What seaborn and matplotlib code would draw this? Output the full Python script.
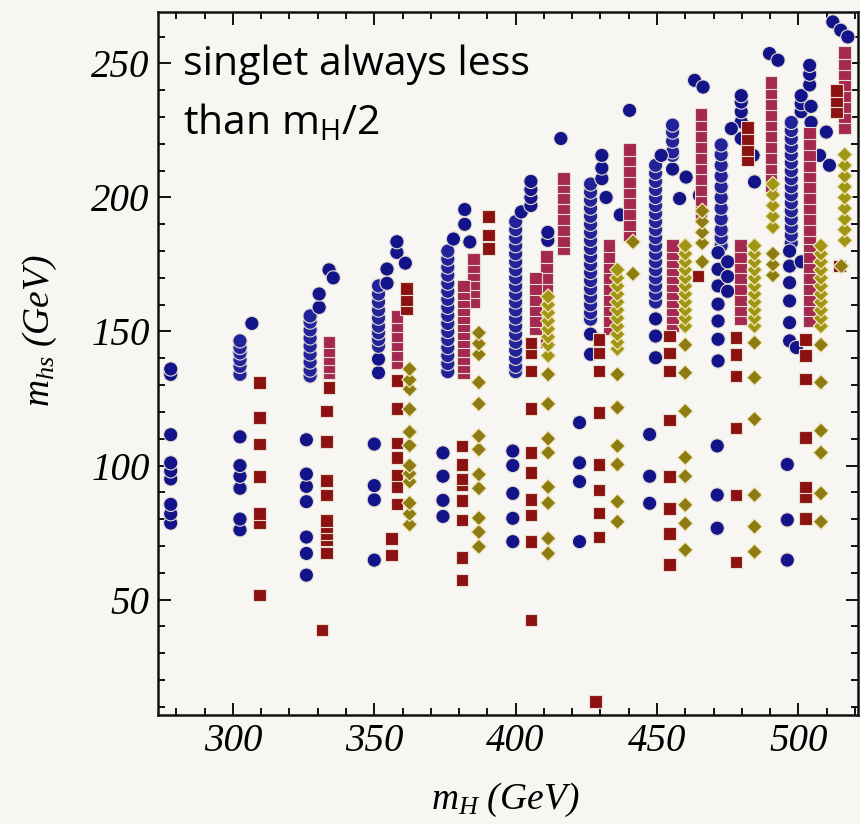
import matplotlib
matplotlib.use("Agg")
import matplotlib.pyplot as plt
from matplotlib.ticker import MultipleLocator
import pandas as pd
import seaborn as sns

# Scan points grouped by column: (m_H, [m_hs values]) in GeV
blue_cols = [
    (278.0, [136, 134, 111.5, 101, 98, 95, 85.5, 82, 78.5]),
    (302.5, [146.5, 144, 142, 139.5, 137, 134, 110.7, 100, 96, 91.5, 80, 76]),
    (306.7, [153]),
    (327.3, [155.8, 153.5, 150.6, 147.6, 144.6, 141.6, 138.6, 135.6, 133.4]),
    (326.0, [109.6, 96.8, 92.2, 86.5, 73.3, 67.2, 59.1]),
    (330.5, [164, 159]),
    (334.0, [173]),
    (335.5, [170]),
    (351.5, [167, 164, 161, 158, 155, 152, 149.5, 147, 144.5, 139.7, 134.6]),
    (350.0, [108, 92.5, 87.2, 64.7]),
    (354.5, [173.3, 168]),
    (358.0, [183.5, 179.5]),
    (361.0, [175.5]),
    (376.0, [180, 177, 174, 171, 168, 165, 162, 159, 156, 153, 150, 147, 144, 141, 138, 135]),
    (374.3, [104.7, 96, 87, 81]),
    (382.0, [195.5, 190]),
    (378.0, [184.5]),
    (383.8, [183.4]),
    (400.0, [191, 188, 185, 182, 179, 176, 173, 170, 167, 164, 161, 158, 155, 152, 149, 146, 143, 140, 137, 135]),
    (402.0, [194.6]),
    (405.4, [206, 203, 200, 197]),
    (411.4, [187, 184]),
    (416.0, [222]),
    (399.0, [105.4, 100, 89.6, 80.3, 71.6]),
    (426.5, [205, 202, 199, 196, 193, 190, 187, 184, 181, 178, 175, 172, 169, 166, 163, 160, 157, 154.6, 149, 141.5]),
    (430.5, [215.7, 211, 207]),
    (432.0, [200]),
    (437.0, [193.5]),
    (440.3, [232.5]),
    (422.6, [116, 101, 94, 71.6]),
    (449.5, [212, 209, 206, 203, 200, 197, 194, 191, 188, 185, 182, 179, 176, 173, 170, 167, 164, 161, 154.7, 148.3, 140.2]),
    (455.5, [227, 224.4, 221, 217, 215.7, 210.6]),
    (451.5, [215.7]),
    (460.3, [207.6]),
    (458.0, [199.6]),
    (465.0, [200.8]),
    (463.3, [243.7]),
    (466.3, [241.2]),
    (447.4, [111.6, 96, 85.9]),
    (472.7, [219.6, 216, 212, 208, 204, 200, 196, 192, 188, 185, 182]),
    (471.6, [179.4, 173.2, 167, 160.2, 153.9, 147.1, 139]),
    (475.0, [176, 170.5, 165]),
    (479.8, [238, 235.6, 232, 228.2, 222]),
    (476.3, [225.7]),
    (484.0, [215.7]),
    (484.5, [205.8]),
    (489.8, [253.7]),
    (492.8, [251.2]),
    (471.3, [107.3, 89, 76.6]),
    (497.5, [228, 225, 222, 219, 216, 213, 210, 207, 204, 201, 198, 195, 192, 189, 186, 183]),
    (496.9, [180, 174.4, 168.2, 161.4, 153.3, 146.5]),
    (501.0, [238, 235, 232, 176]),
    (504.0, [249.3, 246, 242]),
    (504.5, [234, 228]),
    (509.9, [224.4]),
    (507.5, [215.7]),
    (511.0, [212]),
    (499.3, [144]),
    (512.2, [265.5]),
    (515.0, [262.4]),
    (517.5, [259.9]),
    (496.1, [100.4, 79.7, 64.7]),
]

red_cols = [
    (309.5, [131, 118, 108, 96, 82, 78.5, 51.7]),
    (334.0, [146, 143, 140, 137, 134.5, 129]),
    (333.0, [120.3, 109, 94.5, 89, 79.5, 77, 74.5, 72.2, 67.3]),
    (331.5, [38.6]),
    (358.0, [155.5, 152, 148.5, 145, 141.5, 138.5, 131.7, 121.2, 108.4, 103, 96.5, 92, 85.7]),
    (356.0, [72.8, 66.6]),
    (361.5, [166, 162, 158.5]),
    (390.5, [193, 186, 181]),
    (385.0, [177, 174, 171, 168, 165, 161]),
    (381.5, [167, 164, 161, 158, 155, 152, 149, 146, 143, 140, 137, 134.6]),
    (381.0, [107.3, 100.4, 95, 92.7, 87, 79.7, 65.6, 57.3]),
    (417.0, [207, 204, 200, 196, 192, 188, 184, 181]),
    (411.0, [178, 174, 170, 166, 162, 158, 154, 150, 146]),
    (407.0, [170, 166, 162, 158, 154, 151]),
    (405.5, [145.7, 142, 135.3, 121.2, 104.8, 97.3, 87.4, 81.5, 71.6, 42.4]),
    (440.3, [218, 214, 210, 206, 202, 198, 194, 190, 186]),
    (433.0, [182, 178, 174, 170, 166, 162, 158, 154, 151]),
    (429.5, [147, 142, 135.3, 119.7, 100.4, 90.9, 82.2, 73.4]),
    (428.2, [12]),
    (465.5, [231, 227, 223, 219, 215, 211, 207, 203, 199, 196, 193]),
    (455.5, [182, 179, 176, 173, 170, 167, 164, 161, 158, 155, 152]),
    (454.5, [148.3, 142, 135.3, 117, 96, 84, 74.7, 63]),
    (464.5, [170.7]),
    (490.4, [243, 239, 235, 231, 227, 223, 219, 215, 211, 208, 204.5]),
    (482.0, [226, 222, 218, 214]),
    (479.5, [182, 178, 174, 170, 166, 162, 158, 154.6]),
    (478.0, [147.7, 141.5, 133.4, 114, 89, 64]),
    (516.4, [254, 250, 246, 242, 238, 234, 230, 226]),
    (513.4, [240, 236, 232]),
    (504.0, [224, 220, 216, 212, 208, 204, 200, 196, 192, 188, 185, 182, 178, 174, 170, 166, 162, 158, 154]),
    (502.5, [147, 141, 132.2, 110.4, 92, 88.4, 80.3]),
    (514.6, [174.4]),
]

olive_cols = [
    (362.5, [136, 132, 128.5, 121, 112.5, 107.5, 100, 97, 94, 86, 82, 78]),
    (387.0, [149.5, 145.5, 141.5, 131, 123, 111, 106, 96.7, 91.5, 80.4, 75.2, 69.7]),
    (411.5, [163, 160, 157, 154, 151, 148, 145, 141, 134, 123, 110, 104.8, 92, 86, 72.8, 67.2]),
    (441.5, [183.4, 171.5]),
    (436.0, [173, 170, 167, 164, 161, 158, 155, 152, 149, 146, 143.5, 134, 121.6, 107.3, 100.4, 86.5, 79]),
    (466.0, [195, 191, 187, 183, 176]),
    (460.0, [182, 179, 176, 173, 170, 167, 164, 161, 158, 155, 152, 145, 134.6, 120.3, 103, 96, 85.3, 78.4, 68.5]),
    (491.0, [205, 201, 197, 193, 189, 179, 175, 171]),
    (484.5, [182, 179, 176, 173, 170, 167, 164, 161, 158, 155, 152, 145.8, 132.8, 117.3, 89, 77.2, 67.8]),
    (516.4, [216, 212, 208, 204, 200, 196, 192, 188, 184]),
    (515.2, [174.4]),
    (508.0, [182, 179, 176, 173, 170, 167, 164, 161, 158, 155, 152, 145, 131, 113, 104.8, 89.6, 79]),
]

x_ticks = [300, 350, 400, 450, 500]
y_ticks = [50, 100, 150, 200, 250]


def to_frame(cols, gap=4.5, min_run=5):
    """Flatten the column lists; flag points lying in long, tight vertical runs."""
    rows = []
    for x, ys in cols:
        ordered = sorted(ys)
        runs, cur = [], [ordered[0]]
        for y in ordered[1:]:
            if y - cur[-1] <= gap:
                cur.append(y)
            else:
                runs.append(cur)
                cur = [y]
        runs.append(cur)
        for run in runs:
            kind = "stack" if len(run) >= min_run else "single"
            rows.extend((x, y, kind) for y in run)
    return pd.DataFrame(rows, columns=["mH", "mhs", "kind"])


blue = to_frame(blue_cols)
red = to_frame(red_cols)
olive = to_frame(olive_cols)

sns.set_style("ticks")
bg = "#f7f6f2"
plt.rcParams.update({
    "mathtext.fontset": "custom",
    "mathtext.it": "Liberation Serif:italic",
    "mathtext.rm": "Liberation Serif:italic",
    "mathtext.sf": "Open Sans",
    "text.color": "black",
    "axes.labelcolor": "black",
    "xtick.color": "black",
    "ytick.color": "black",
})

fig = plt.figure(figsize=(8.6, 8.24), dpi=100, facecolor=bg)
ax = fig.add_axes([158 / 860, 1 - 714.5 / 824, 700 / 860, 702.5 / 824])
ax.set_facecolor(bg)

halo = "#e4dfd0"
sns.scatterplot(data=blue, x="mH", y="mhs", hue="kind", ax=ax, marker="o", s=105,
                palette={"single": "#14148a", "stack": "#22229a"},
                edgecolor=halo, linewidth=0.8, legend=False, zorder=3)
sns.scatterplot(data=red, x="mH", y="mhs", hue="kind", ax=ax, marker="s", s=82,
                palette={"single": "#8c1212", "stack": "#a42850"},
                edgecolor=halo, linewidth=0.8, legend=False, zorder=4)
sns.scatterplot(data=olive, x="mH", y="mhs", hue="kind", ax=ax, marker="D", s=62,
                palette={"single": "#8e7c12", "stack": "#a09514"},
                edgecolor="#f0e8bc", linewidth=0.9, legend=False, zorder=5)

ax.set_xlim(273.5, 521.1)
ax.set_ylim(7.1, 269.2)
ax.set_xticks(x_ticks)
ax.set_yticks(y_ticks)
ax.xaxis.set_minor_locator(MultipleLocator(10))
ax.yaxis.set_minor_locator(MultipleLocator(10))

tick_font = {"family": "Liberation Serif", "style": "italic", "size": 28}
ax.set_xticklabels([str(v) for v in x_ticks], fontdict=tick_font)
ax.set_yticklabels([str(v) for v in y_ticks], fontdict=tick_font)

ax.tick_params(which="both", direction="in", top=True, right=True,
               labeltop=False, labelright=False, color="#111111", width=1.4,
               labelcolor="black")
ax.tick_params(which="major", length=9, pad=6)
ax.tick_params(which="minor", length=5)
for sp in ax.spines.values():
    sp.set_linewidth(1.8)
    sp.set_color("#111111")

ax.set_xlabel(r"$m_H\ (GeV)$", fontsize=27, va="center", color="black")
ax.set_ylabel(r"$m_{hs}\ (GeV)$", fontsize=27, va="center", color="black")
ax.xaxis.set_label_coords(0.496, -0.122)
ax.yaxis.set_label_coords(-0.169, 0.547)

fig.text(183 / 860, 1 - 75 / 824, "singlet always less", family="Open Sans",
         fontsize=29.5, va="baseline", ha="left", color="black")
fig.text(183 / 860, 1 - 134 / 824, r"than $\mathsf{m_H/2}$", family="Open Sans",
         fontsize=29.5, va="baseline", ha="left", color="black")

fig.savefig("out.png", dpi=100, facecolor=bg)
